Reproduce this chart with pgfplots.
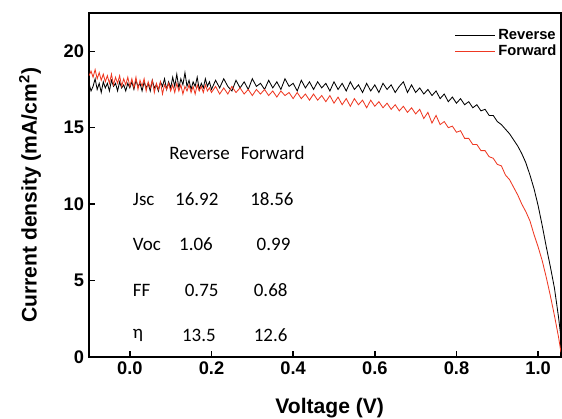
\documentclass[border=0pt]{standalone}
\usepackage{pgfplots}
\pgfplotsset{compat=1.18}
\usepackage{fontspec}
\setmainfont{Liberation Sans}
\newfontfamily\tabfont{Carlito}
\definecolor{fwdred}{RGB}{238,56,34}
\begin{document}
\begin{tikzpicture}
\begin{axis}[
  scale only axis, width=11.8cm, height=8.6cm,
  xmin=-0.1, xmax=1.056, ymin=0, ymax=22.5,
  axis line style={line width=1.2pt},
  tick align=inside, xtick pos=bottom, ytick pos=left,
  major tick length=0.15cm,
  tick style={line width=1pt, black},
  xtick={0,0.2,0.4,0.6,0.8,1.0},
  xticklabels={0.0,0.2,0.4,0.6,0.8,1.0},
  ytick={0,5,10,15,20},
  /pgf/number format/assume math mode=true,
  ticklabel style={font=\fontsize{13}{15}\selectfont\bfseries},
  xlabel={Voltage (V)}, ylabel={Current density (mA/cm\textsuperscript{2})},
  label style={font=\fontsize{15}{17}\selectfont\bfseries},
  xlabel style={at={(axis description cs:0.51,-0.148)}, anchor=center},
  ylabel style={at={(axis description cs:-0.125,0.47)}, anchor=center, rotate=0},
  legend style={at={(1,0.965)}, anchor=north east, draw=none, fill=none,
    font=\fontsize{10.5}{12}\selectfont\bfseries, row sep=-2pt, inner sep=1pt},
  legend cell align=left,
  legend image code/.code={\draw[#1] (0cm,0cm) -- (1.0cm,0cm);},
  clip=true,
]
\addplot[black, line width=0.6pt] coordinates {
(-0.10,17.9)(-0.095,17.4)(-0.09,17.7)(-0.085,18.2)(-0.08,17.5)(-0.075,17.9)(-0.07,17.3)(-0.065,18.0)(-0.06,17.6)(-0.055,17.9)(-0.05,17.4)(-0.045,18.1)(-0.04,17.7)(-0.035,17.9)(-0.03,17.4)(-0.025,18.0)(-0.02,17.6)(-0.015,17.8)(-0.01,17.4)(-0.005,17.9)
(0.00,17.6)(0.005,18.0)(0.01,17.5)(0.015,18.1)(0.02,17.7)(0.025,17.9)(0.03,17.4)(0.035,18.0)(0.04,17.6)(0.045,17.9)(0.05,17.4)(0.055,18.1)(0.06,17.6)(0.065,17.8)(0.07,17.4)(0.075,18.0)(0.08,17.7)(0.085,18.2)(0.09,17.5)(0.095,18.0)
(0.10,17.6)(0.105,18.3)(0.11,17.7)(0.115,18.5)(0.12,17.6)(0.125,18.2)(0.13,17.8)(0.135,18.6)(0.14,17.7)(0.145,18.1)(0.15,17.5)(0.155,18.0)(0.16,17.7)(0.165,18.3)(0.17,17.5)(0.175,17.9)(0.18,17.6)(0.185,18.2)(0.19,17.7)(0.195,18.0)
(0.20,17.5)(0.21,18.1)(0.22,17.6)(0.23,18.2)(0.24,17.7)(0.25,17.4)(0.26,18.1)(0.27,17.6)(0.28,18.0)(0.29,17.5)
(0.30,18.2)(0.31,17.7)(0.32,17.9)(0.33,17.5)(0.34,18.1)(0.35,17.6)(0.36,18.0)(0.37,17.5)(0.38,18.2)(0.39,17.7)
(0.40,17.9)(0.41,17.4)(0.42,18.1)(0.43,17.6)(0.44,18.0)(0.45,17.5)(0.46,18.0)(0.47,17.6)(0.48,17.9)(0.49,17.4)
(0.50,18.0)(0.51,17.5)(0.52,17.9)(0.53,17.4)(0.54,18.0)(0.55,17.5)(0.56,17.8)(0.57,17.3)(0.58,17.9)(0.59,17.4)
(0.60,17.8)(0.61,17.3)(0.62,17.9)(0.63,17.5)(0.64,17.8)(0.65,17.3)(0.66,17.7)(0.67,18.0)(0.68,17.3)(0.69,17.8)
(0.70,17.3)(0.71,17.6)(0.72,17.2)(0.73,17.5)(0.74,17.1)(0.75,17.4)(0.76,16.9)(0.77,17.2)(0.78,16.7)(0.79,17.0)
(0.80,16.6)(0.81,16.9)(0.82,16.5)(0.83,16.7)(0.84,16.3)(0.85,16.5)(0.86,16.1)(0.87,16.2)(0.88,15.8)(0.89,15.8)
(0.90,15.4)(0.91,15.2)(0.92,14.9)(0.93,14.6)(0.94,14.2)(0.95,13.8)(0.96,13.3)(0.97,12.7)(0.98,11.9)(0.99,11.0)
(1.00,9.9)(1.01,8.6)(1.02,7.2)(1.03,5.9)(1.04,4.5)(1.05,2.6)(1.058,0.8)
};
\addlegendentry{Reverse}
\addplot[fwdred, line width=0.6pt] coordinates {
(-0.10,18.4)(-0.095,18.7)(-0.09,18.3)(-0.085,18.8)(-0.08,18.2)(-0.075,18.6)(-0.07,18.1)(-0.065,18.5)(-0.06,18.0)(-0.055,18.4)(-0.05,17.9)(-0.045,18.5)(-0.04,17.8)(-0.035,18.3)(-0.03,17.9)(-0.025,18.4)(-0.02,17.7)(-0.015,18.2)(-0.01,17.8)(-0.005,18.3)
(0.00,17.7)(0.005,18.2)(0.01,17.6)(0.015,18.3)(0.02,17.5)(0.025,18.1)(0.03,17.7)(0.035,18.2)(0.04,17.4)(0.045,18.0)(0.05,17.6)(0.055,18.1)(0.06,17.3)(0.065,17.9)(0.07,17.5)(0.075,18.0)(0.08,17.2)(0.085,17.8)(0.09,17.5)(0.095,17.9)
(0.10,17.4)(0.105,17.8)(0.11,17.3)(0.115,17.9)(0.12,17.4)(0.125,17.8)(0.13,17.2)(0.135,17.7)(0.14,17.4)(0.145,17.8)(0.15,17.3)(0.155,17.7)(0.16,17.2)(0.165,17.8)(0.17,17.4)(0.175,17.7)(0.18,17.3)(0.185,17.8)(0.19,17.4)(0.195,17.6)
(0.20,17.3)(0.21,17.7)(0.22,17.2)(0.23,17.6)(0.24,17.2)(0.25,17.7)(0.26,17.3)(0.27,17.6)(0.28,17.2)(0.29,17.5)
(0.30,17.1)(0.31,17.5)(0.32,17.2)(0.33,17.5)(0.34,17.1)(0.35,17.4)(0.36,17.0)(0.37,17.4)(0.38,17.1)(0.39,17.3)
(0.40,16.9)(0.41,17.3)(0.42,16.9)(0.43,17.2)(0.44,16.8)(0.45,17.2)(0.46,16.8)(0.47,17.1)(0.48,16.7)(0.49,17.1)
(0.50,16.6)(0.51,17.0)(0.52,16.5)(0.53,16.9)(0.54,16.4)(0.55,16.9)(0.56,16.5)(0.57,16.8)(0.58,16.3)(0.59,16.8)
(0.60,16.4)(0.61,16.7)(0.62,16.3)(0.63,16.6)(0.64,16.2)(0.65,16.5)(0.66,16.1)(0.67,16.4)(0.68,16.0)(0.69,16.3)
(0.70,15.9)(0.71,16.2)(0.72,15.6)(0.73,16.0)(0.74,15.3)(0.75,15.8)(0.76,15.2)(0.77,15.4)(0.78,15.0)(0.79,15.1)
(0.80,14.7)(0.81,14.8)(0.82,14.3)(0.83,14.3)(0.84,13.9)(0.85,13.9)(0.86,13.5)(0.87,13.5)(0.88,13.1)(0.89,13.0)
(0.90,12.6)(0.91,12.5)(0.92,11.9)(0.93,11.6)(0.94,11.1)(0.95,10.6)(0.96,10.0)(0.97,9.5)(0.98,8.9)(0.99,8.0)
(1.00,7.2)(1.01,6.3)(1.02,5.2)(1.03,4.0)(1.04,2.7)(1.05,1.3)(1.056,0.3)
};
\addlegendentry{Forward}
\begin{scope}[every node/.style={font=\tabfont\fontsize{13.5}{15}\selectfont, inner sep=0pt}]
\node at (axis cs:0.171,13.33) {Reverse};
\node at (axis cs:0.350,13.33) {Forward};
\node[anchor=west] at (axis cs:0.007,10.33) {Jsc};
\node[anchor=west] at (axis cs:0.007,7.39) {Voc};
\node[anchor=west] at (axis cs:0.007,4.38) {FF};
\node[anchor=west] at (axis cs:0.007,1.44) {η};
\node at (axis cs:0.164,10.33) {16.92};
\node at (axis cs:0.162,7.39) {1.06};
\node at (axis cs:0.176,4.38) {0.75};
\node at (axis cs:0.169,1.44) {13.5};
\node at (axis cs:0.348,10.33) {18.56};
\node at (axis cs:0.352,7.39) {0.99};
\node at (axis cs:0.345,4.38) {0.68};
\node at (axis cs:0.345,1.44) {12.6};
\end{scope}
\end{axis}
\pgfresetboundingbox
\useasboundingbox (-2.225cm,-1.55cm) rectangle (11.825cm,8.925cm);
\end{tikzpicture}
\end{document}
